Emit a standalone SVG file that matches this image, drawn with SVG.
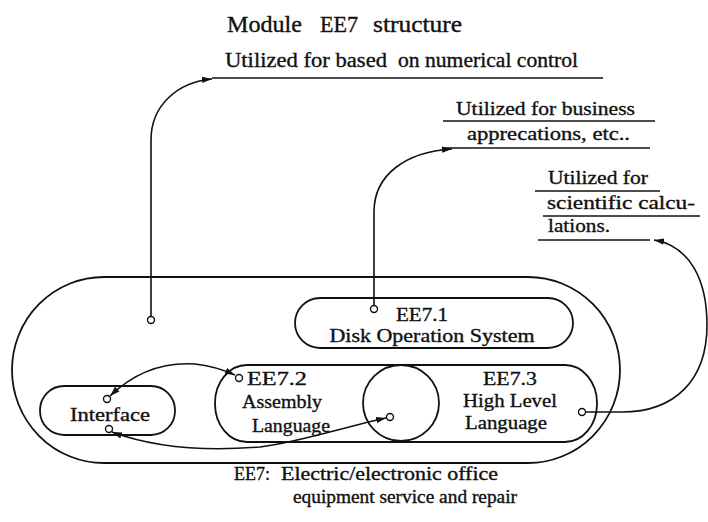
<svg xmlns="http://www.w3.org/2000/svg" width="708" height="522" viewBox="0 0 708 522">
<style>
  .ln{fill:none;stroke:#111;stroke-width:1.6}
  .box{fill:none;stroke:#111;stroke-width:1.8}
  .pt{fill:#fff;stroke:#111;stroke-width:1.4}
  .t{font-family:"Liberation Serif","Times New Roman",serif;fill:#111;stroke:#111;stroke-width:0.35}
  .ul{stroke:#111;stroke-width:1.5;fill:none}
</style>
<defs>
  <marker id="ah" markerUnits="userSpaceOnUse" markerWidth="12" markerHeight="10" refX="10" refY="4" orient="auto-start-reverse" viewBox="0 0 12 8">
    <path d="M0,0.8 L10,4 L0,7.2 Z" fill="#111"/>
  </marker>
</defs>
<rect width="708" height="522" fill="#fff"/>

<g id="title">
  <text class="t" x="227" y="32" font-size="23" textLength="75" lengthAdjust="spacingAndGlyphs">Module</text>
  <text class="t" x="320" y="32" font-size="23" textLength="38" lengthAdjust="spacingAndGlyphs">EE7</text>
  <text class="t" x="373" y="32" font-size="23" textLength="89" lengthAdjust="spacingAndGlyphs">structure</text>
</g>

<g id="use-nc">
  <text class="t" x="225" y="67" font-size="20" textLength="162" lengthAdjust="spacingAndGlyphs">Utilized for based</text>
  <text class="t" x="398" y="67" font-size="20" textLength="180" lengthAdjust="spacingAndGlyphs">on numerical control</text>
  <line class="ul" x1="212" y1="78" x2="603" y2="78"/>
</g>

<g id="use-business">
  <text class="t" x="456" y="115" font-size="19" textLength="179" lengthAdjust="spacingAndGlyphs">Utilized for business</text>
  <line class="ul" x1="443" y1="121" x2="655" y2="121"/>
  <text class="t" x="467" y="140" font-size="19" textLength="163" lengthAdjust="spacingAndGlyphs">apprecations, etc..</text>
  <line class="ul" x1="445" y1="148" x2="650" y2="148"/>
</g>

<g id="use-scientific">
  <text class="t" x="548" y="184" font-size="19" textLength="100" lengthAdjust="spacingAndGlyphs">Utilized for</text>
  <line class="ul" x1="535" y1="191" x2="660" y2="191"/>
  <text class="t" x="547" y="209" font-size="19" textLength="148" lengthAdjust="spacingAndGlyphs">scientific calcu-</text>
  <line class="ul" x1="543" y1="216" x2="700" y2="216"/>
  <text class="t" x="548" y="232" font-size="19" textLength="62" lengthAdjust="spacingAndGlyphs">lations.</text>
  <line class="ul" x1="538" y1="240" x2="650" y2="240"/>
</g>

<g id="EE7">
  <rect class="box" x="12" y="277" width="608" height="186" rx="92" ry="93"/>
</g>

<g id="EE7-1">
  <rect class="box" x="295" y="298" width="278" height="50" rx="25" ry="25"/>
  <text class="t" x="422" y="321" font-size="18" text-anchor="middle" textLength="52" lengthAdjust="spacingAndGlyphs">EE7.1</text>
  <text class="t" x="432" y="342" font-size="18" text-anchor="middle" textLength="205" lengthAdjust="spacingAndGlyphs">Disk Operation System</text>
</g>

<g id="EE7-2-3">
  <rect class="box" x="215" y="365" width="382" height="77" rx="32" ry="38"/>
  <circle class="box" cx="401" cy="403" r="38"/>
</g>

<g id="EE7-2">
  <text class="t" x="247" y="385" font-size="19" textLength="60" lengthAdjust="spacingAndGlyphs">EE7.2</text>
  <text class="t" x="242" y="408" font-size="19" textLength="80" lengthAdjust="spacingAndGlyphs">Assembly</text>
  <text class="t" x="252" y="432" font-size="19" textLength="78" lengthAdjust="spacingAndGlyphs">Language</text>
</g>

<g id="EE7-3">
  <text class="t" x="483" y="385" font-size="19" textLength="54" lengthAdjust="spacingAndGlyphs">EE7.3</text>
  <text class="t" x="463" y="407" font-size="19" textLength="94" lengthAdjust="spacingAndGlyphs">High Level</text>
  <text class="t" x="465" y="429" font-size="19" textLength="82" lengthAdjust="spacingAndGlyphs">Language</text>
</g>

<g id="interface">
  <rect class="box" x="40" y="386" width="135" height="49" rx="24" ry="24"/>
  <text class="t" x="70" y="421" font-size="19" textLength="80" lengthAdjust="spacingAndGlyphs">Interface</text>
</g>

<g id="caption">
  <text class="t" x="234" y="480" font-size="18">EE7:</text>
  <text class="t" x="281" y="480" font-size="18" textLength="217" lengthAdjust="spacingAndGlyphs">Electric/electronic office</text>
  <text class="t" x="293" y="503" font-size="18" textLength="224" lengthAdjust="spacingAndGlyphs">equipment service and repair</text>
</g>

<g id="connectors">
  <path class="ln" d="M151,316 V140 C151,105 178,82 212,79" marker-end="url(#ah)"/>
  <path class="ln" d="M374,305 V212 C374,175 405,152 452,149" marker-end="url(#ah)"/>
  <path class="ln" d="M586,412 H622 C675,412 707,380 707,325 C707,280 690,246 654,240" marker-end="url(#ah)"/>
  <path class="ln" d="M110,396 C135,372 165,362 195,364 C214,366 226,371 235,375" marker-start="url(#ah)" marker-end="url(#ah)"/>
  <path class="ln" d="M112,432 C150,446 200,452 260,447 C300,442 340,428 386,418" marker-start="url(#ah)" marker-end="url(#ah)"/>
  <circle class="pt" cx="151" cy="320" r="3.5"/>
  <circle class="pt" cx="374" cy="309" r="3.5"/>
  <circle class="pt" cx="582" cy="412" r="3.5"/>
  <circle class="pt" cx="239" cy="378" r="3.5"/>
  <circle class="pt" cx="107" cy="399" r="3.5"/>
  <circle class="pt" cx="109" cy="429" r="3.5"/>
  <circle class="pt" cx="390" cy="417" r="3.5"/>
</g>
</svg>
